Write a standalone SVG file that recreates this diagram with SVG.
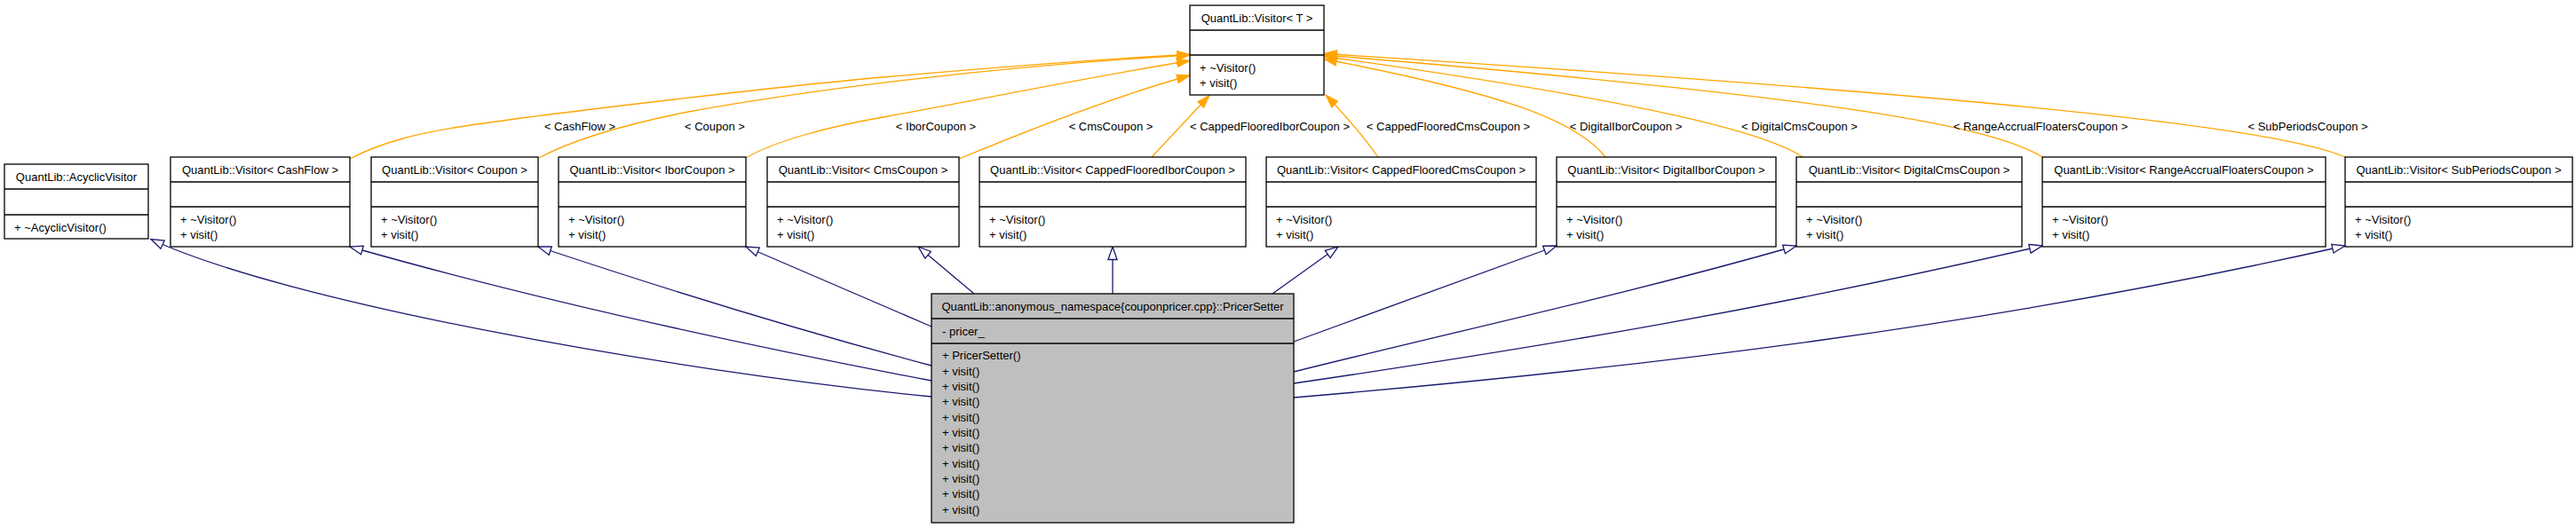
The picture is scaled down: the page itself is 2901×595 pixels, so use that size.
<svg xmlns="http://www.w3.org/2000/svg" width="2901" height="595" viewBox="0 0 2901 595">
<style>
text{font-family:"Liberation Sans",Arial,sans-serif;font-size:13px;fill:#000}
.t{text-anchor:middle}
.box{fill:#fff;stroke:#000;stroke-width:1.3}
.sel{fill:#bfbfbf;stroke:#000;stroke-width:1.3}
.div{stroke:#000;stroke-width:1.3}
.tpl{fill:none;stroke:#ffa500;stroke-width:1.3}
.inh{fill:none;stroke:#191970;stroke-width:1.3}
</style>
<defs>
<marker id="ao" markerUnits="userSpaceOnUse" markerWidth="16" markerHeight="12" viewBox="0 0 16 12" refX="15" refY="6" orient="auto"><path d="M0,1 L15,6 L0,11 z" fill="#ffa500" stroke="#ffa500"/></marker>
<marker id="ab" markerUnits="userSpaceOnUse" markerWidth="17" markerHeight="13" viewBox="0 0 17 13" refX="15.5" refY="6.5" orient="auto"><path d="M1,1.5 L15.5,6.5 L1,11.5 z" fill="#fff" stroke="#191970" stroke-width="1.3"/></marker>
</defs>
<rect width="2901" height="595" fill="#fff"/>
<g id="connectors">
<path class="tpl" marker-end="url(#ao)" d="M394,179 C430,160 470,150 530,141 C640,125 900,95 1000,86.5 C1120,76 1230,67 1340,61.5"/>
<path class="tpl" marker-end="url(#ao)" d="M607,178 C640,160 690,143 775,126 C920,100 1120,75 1340,62"/>
<path class="tpl" marker-end="url(#ao)" d="M840,178 C870,160 930,143 1000,131 C1110,111 1230,86 1340,68.5"/>
<path class="tpl" marker-end="url(#ao)" d="M1080,179 C1150,150 1250,110 1340,85"/>
<path class="tpl" marker-end="url(#ao)" d="M1297,177 L1362,107.5"/>
<path class="tpl" marker-end="url(#ao)" d="M1552,177 C1540,160 1515,130 1493,107"/>
<path class="tpl" marker-end="url(#ao)" d="M1808,177 C1775,135 1690,105 1491,66.5"/>
<path class="tpl" marker-end="url(#ao)" d="M2030,177 C1990,150 1860,115 1491,63.5"/>
<path class="tpl" marker-end="url(#ao)" d="M2300,177 C2240,140 2050,108 1491,62"/>
<path class="tpl" marker-end="url(#ao)" d="M2641,177 C2580,150 2350,115 1491,60.5"/>
<text class="t" x="653" y="146.5">&lt; CashFlow &gt;</text>
<text class="t" x="805" y="146.5">&lt; Coupon &gt;</text>
<text class="t" x="1054" y="146.5">&lt; IborCoupon &gt;</text>
<text class="t" x="1251" y="146.5">&lt; CmsCoupon &gt;</text>
<text class="t" x="1430" y="146.5">&lt; CappedFlooredIborCoupon &gt;</text>
<text class="t" x="1631" y="146.5">&lt; CappedFlooredCmsCoupon &gt;</text>
<text class="t" x="1831" y="146.5">&lt; DigitalIborCoupon &gt;</text>
<text class="t" x="2026.5" y="146.5">&lt; DigitalCmsCoupon &gt;</text>
<text class="t" x="2298" y="146.5">&lt; RangeAccrualFloatersCoupon &gt;</text>
<text class="t" x="2599" y="146.5">&lt; SubPeriodsCoupon &gt;</text>
<path class="inh" marker-end="url(#ab)" d="M1049,447 C749,417 320,340 170,269.5"/>
<path class="inh" marker-end="url(#ab)" d="M1049,429 C829,387 594,335 394,278"/>
<path class="inh" marker-end="url(#ab)" d="M1049,412 C899,372 756,328 606,278"/>
<path class="inh" marker-end="url(#ab)" d="M1049,368 L840,278"/>
<path class="inh" marker-end="url(#ab)" d="M1097,331 L1034,278"/>
<path class="inh" marker-end="url(#ab)" d="M1253,331 L1253,278"/>
<path class="inh" marker-end="url(#ab)" d="M1433,331 L1507,278"/>
<path class="inh" marker-end="url(#ab)" d="M1457,385 L1753,277"/>
<path class="inh" marker-end="url(#ab)" d="M1457,419 C1657,369 1823,334 2023,277"/>
<path class="inh" marker-end="url(#ab)" d="M1457,432 C1757,388 2000,346 2300,277"/>
<path class="inh" marker-end="url(#ab)" d="M1457,448 C1857,414 2241,367 2641,277"/>
</g>
<g id="visitorT">
<rect class="box" x="1340" y="6" width="151" height="101"/>
<line class="div" x1="1340" y1="34" x2="1491" y2="34"/>
<line class="div" x1="1340" y1="62" x2="1491" y2="62"/>
<text class="t" x="1415.5" y="25">QuantLib::Visitor&lt; T &gt;</text>
<text x="1351" y="80.5">+ ~Visitor()</text>
<text x="1351" y="97.5">+ visit()</text>
</g>
<g id="acyclicVisitor">
<rect class="box" x="5" y="185" width="162" height="84"/>
<line class="div" x1="5" y1="213" x2="167" y2="213"/>
<line class="div" x1="5" y1="242" x2="167" y2="242"/>
<text class="t" x="86" y="204">QuantLib::AcyclicVisitor</text>
<text x="16" y="260.5">+ ~AcyclicVisitor()</text>
</g>
<g id="visitorCashFlow">
<rect class="box" x="192" y="177" width="202" height="101"/>
<line class="div" x1="192" y1="205" x2="394" y2="205"/>
<line class="div" x1="192" y1="233" x2="394" y2="233"/>
<text class="t" x="293" y="195.5">QuantLib::Visitor&lt; CashFlow &gt;</text>
<text x="203" y="251.5">+ ~Visitor()</text>
<text x="203" y="268.5">+ visit()</text>
</g>
<g id="visitorCoupon">
<rect class="box" x="418" y="177" width="188" height="101"/>
<line class="div" x1="418" y1="205" x2="606" y2="205"/>
<line class="div" x1="418" y1="233" x2="606" y2="233"/>
<text class="t" x="512" y="195.5">QuantLib::Visitor&lt; Coupon &gt;</text>
<text x="429" y="251.5">+ ~Visitor()</text>
<text x="429" y="268.5">+ visit()</text>
</g>
<g id="visitorIborCoupon">
<rect class="box" x="629" y="177" width="211" height="101"/>
<line class="div" x1="629" y1="205" x2="840" y2="205"/>
<line class="div" x1="629" y1="233" x2="840" y2="233"/>
<text class="t" x="734.5" y="195.5">QuantLib::Visitor&lt; IborCoupon &gt;</text>
<text x="640" y="251.5">+ ~Visitor()</text>
<text x="640" y="268.5">+ visit()</text>
</g>
<g id="visitorCmsCoupon">
<rect class="box" x="864" y="177" width="216" height="101"/>
<line class="div" x1="864" y1="205" x2="1080" y2="205"/>
<line class="div" x1="864" y1="233" x2="1080" y2="233"/>
<text class="t" x="972" y="195.5">QuantLib::Visitor&lt; CmsCoupon &gt;</text>
<text x="875" y="251.5">+ ~Visitor()</text>
<text x="875" y="268.5">+ visit()</text>
</g>
<g id="visitorCappedFlooredIborCoupon">
<rect class="box" x="1103" y="177" width="300" height="101"/>
<line class="div" x1="1103" y1="205" x2="1403" y2="205"/>
<line class="div" x1="1103" y1="233" x2="1403" y2="233"/>
<text class="t" x="1253" y="195.5">QuantLib::Visitor&lt; CappedFlooredIborCoupon &gt;</text>
<text x="1114" y="251.5">+ ~Visitor()</text>
<text x="1114" y="268.5">+ visit()</text>
</g>
<g id="visitorCappedFlooredCmsCoupon">
<rect class="box" x="1426" y="177" width="304" height="101"/>
<line class="div" x1="1426" y1="205" x2="1730" y2="205"/>
<line class="div" x1="1426" y1="233" x2="1730" y2="233"/>
<text class="t" x="1578" y="195.5">QuantLib::Visitor&lt; CappedFlooredCmsCoupon &gt;</text>
<text x="1437" y="251.5">+ ~Visitor()</text>
<text x="1437" y="268.5">+ visit()</text>
</g>
<g id="visitorDigitalIborCoupon">
<rect class="box" x="1753" y="177" width="247" height="101"/>
<line class="div" x1="1753" y1="205" x2="2000" y2="205"/>
<line class="div" x1="1753" y1="233" x2="2000" y2="233"/>
<text class="t" x="1876.5" y="195.5">QuantLib::Visitor&lt; DigitalIborCoupon &gt;</text>
<text x="1764" y="251.5">+ ~Visitor()</text>
<text x="1764" y="268.5">+ visit()</text>
</g>
<g id="visitorDigitalCmsCoupon">
<rect class="box" x="2023" y="177" width="254" height="101"/>
<line class="div" x1="2023" y1="205" x2="2277" y2="205"/>
<line class="div" x1="2023" y1="233" x2="2277" y2="233"/>
<text class="t" x="2150" y="195.5">QuantLib::Visitor&lt; DigitalCmsCoupon &gt;</text>
<text x="2034" y="251.5">+ ~Visitor()</text>
<text x="2034" y="268.5">+ visit()</text>
</g>
<g id="visitorRangeAccrualFloatersCoupon">
<rect class="box" x="2300" y="177" width="319" height="101"/>
<line class="div" x1="2300" y1="205" x2="2619" y2="205"/>
<line class="div" x1="2300" y1="233" x2="2619" y2="233"/>
<text class="t" x="2459.5" y="195.5">QuantLib::Visitor&lt; RangeAccrualFloatersCoupon &gt;</text>
<text x="2311" y="251.5">+ ~Visitor()</text>
<text x="2311" y="268.5">+ visit()</text>
</g>
<g id="visitorSubPeriodsCoupon">
<rect class="box" x="2641" y="177" width="256" height="101"/>
<line class="div" x1="2641" y1="205" x2="2897" y2="205"/>
<line class="div" x1="2641" y1="233" x2="2897" y2="233"/>
<text class="t" x="2769" y="195.5">QuantLib::Visitor&lt; SubPeriodsCoupon &gt;</text>
<text x="2652" y="251.5">+ ~Visitor()</text>
<text x="2652" y="268.5">+ visit()</text>
</g>
<g id="pricerSetter">
<rect class="sel" x="1049" y="331" width="408" height="258"/>
<line class="div" x1="1049" y1="359" x2="1457" y2="359"/>
<line class="div" x1="1049" y1="387" x2="1457" y2="387"/>
<text class="t" x="1253" y="349.5">QuantLib::anonymous_namespace{couponpricer.cpp}::PricerSetter</text>
<text x="1061" y="377.5">- pricer_</text>
<text x="1061" y="405.4">+ PricerSetter()</text>
<text x="1061" y="422.7">+ visit()</text>
<text x="1061" y="440.1">+ visit()</text>
<text x="1061" y="457.4">+ visit()</text>
<text x="1061" y="474.7">+ visit()</text>
<text x="1061" y="492.1">+ visit()</text>
<text x="1061" y="509.4">+ visit()</text>
<text x="1061" y="526.7">+ visit()</text>
<text x="1061" y="544.1">+ visit()</text>
<text x="1061" y="561.4">+ visit()</text>
<text x="1061" y="578.7">+ visit()</text>
</g>
</svg>
